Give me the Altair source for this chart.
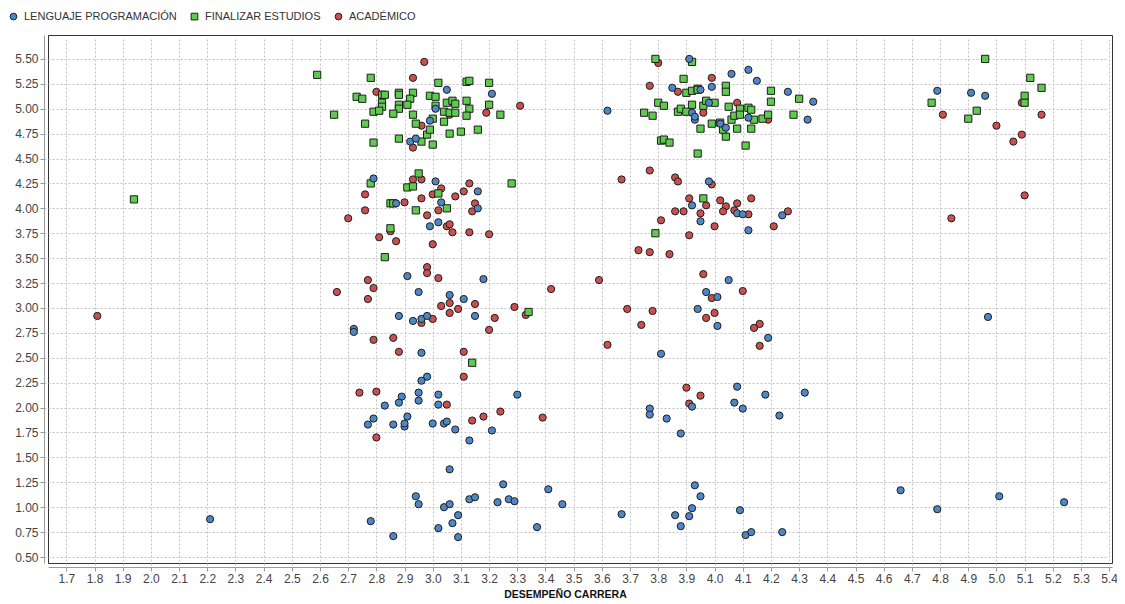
import altair as alt
import pandas as pd

# ---------------- data ----------------
series_names = ["LENGUAJE PROGRAMACIÓN", "FINALIZAR ESTUDIOS", "ACADÉMICO"]
series_colors = ["#4F86C6", "#5FCB4E", "#C9504F"]
series_shapes = ["circle", "square", "circle"]

x_ticks = [1.7, 1.8, 1.9, 2.0, 2.1, 2.2, 2.3, 2.4, 2.5, 2.6, 2.7, 2.8, 2.9, 3.0,
           3.1, 3.2, 3.3, 3.4, 3.5, 3.6, 3.7, 3.8, 3.9, 4.0, 4.1, 4.2, 4.3, 4.4,
           4.5, 4.6, 4.7, 4.8, 4.9, 5.0, 5.1, 5.2, 5.3, 5.4]
y_ticks = [0.5, 0.75, 1.0, 1.25, 1.5, 1.75, 2.0, 2.25, 2.5, 2.75, 3.0, 3.25, 3.5,
           3.75, 4.0, 4.25, 4.5, 4.75, 5.0, 5.25, 5.5]

lenguaje = [
    (3.05, 5.19), (3.21, 5.15), (3.01, 5.00), (2.99, 4.88), (2.92, 4.67), (2.94, 4.70),
    (2.79, 4.30), (3.01, 4.27), (3.16, 4.17), (3.03, 4.06), (3.16, 4.00), (2.87, 4.05),
    (2.99, 3.82), (3.02, 3.86), (2.91, 3.32), (2.95, 3.16), (3.06, 3.13), (3.11, 3.09),
    (3.18, 3.29), (2.88, 2.92), (2.93, 2.87), (2.96, 2.89), (2.98, 2.92), (3.15, 2.92),
    (2.72, 2.79), (2.72, 2.76), (2.96, 2.55), (2.98, 2.31), (2.96, 2.27),
    (2.95, 2.15), (3.02, 2.13), (3.02, 2.03), (2.89, 2.11), (2.88, 2.05), (2.95, 2.07),
    (2.83, 2.02), (3.30, 2.13), (2.91, 1.91), (2.79, 1.89), (2.77, 1.83), (2.86, 1.83),
    (2.90, 1.81), (2.90, 1.84), (3.00, 1.84), (3.04, 1.84), (3.05, 1.86), (3.08, 1.78),
    (3.21, 1.77), (3.13, 1.67), (3.06, 1.38), (3.25, 1.23), (3.41, 1.18), (2.94, 1.11),
    (2.95, 1.03), (3.13, 1.08), (3.15, 1.10), (3.23, 1.05), (3.27, 1.08), (3.29, 1.06),
    (3.04, 1.00), (3.06, 1.03), (3.09, 0.92), (3.07, 0.84), (2.78, 0.86), (3.02, 0.79),
    (2.86, 0.71), (3.09, 0.70), (3.37, 0.80), (3.46, 1.03), (2.21, 0.88),
    (3.91, 5.50), (4.06, 5.35), (4.12, 5.39), (4.15, 5.28), (3.85, 5.21), (3.95, 5.19),
    (3.99, 5.22), (3.98, 5.06), (4.26, 5.17), (4.35, 5.07), (4.33, 4.89), (3.62, 4.98),
    (3.92, 4.96), (3.93, 4.89), (3.93, 4.92), (4.02, 4.85), (4.04, 4.81), (4.12, 4.91),
    (3.98, 4.27), (3.92, 4.03), (4.08, 3.95), (4.10, 3.94), (4.24, 3.93),
    (3.95, 3.87), (4.12, 3.78), (4.05, 3.28), (3.97, 3.16), (4.01, 3.11), (3.94, 2.99),
    (4.01, 2.82), (4.19, 2.70), (3.81, 2.54), (4.08, 2.21),
    (4.18, 2.13), (4.32, 2.15), (3.77, 1.99), (3.77, 1.93), (3.83, 1.89), (3.92, 2.01),
    (4.07, 2.05), (4.10, 1.99), (4.23, 1.92), (3.88, 1.74), (3.93, 1.22), (3.95, 1.11),
    (3.92, 0.99), (3.91, 0.91), (3.86, 0.92), (3.88, 0.81), (3.67, 0.93), (4.09, 0.97),
    (4.11, 0.72), (4.13, 0.75), (4.24, 0.75),
    (4.79, 5.18), (4.91, 5.16), (4.96, 5.13), (4.97, 2.91), (4.66, 1.17), (4.79, 0.98),
    (5.01, 1.11), (5.24, 1.05),
]

finalizar = [
    (2.59, 5.34), (2.78, 5.31), (3.02, 5.26), (3.12, 5.27), (3.13, 5.28), (3.20, 5.26),
    (2.82, 5.14), (2.83, 5.14), (2.73, 5.12), (2.75, 5.10), (2.88, 5.16), (2.88, 5.14),
    (2.93, 5.16), (2.92, 5.10), (2.82, 5.06), (2.82, 5.02), (2.88, 5.04), (2.88, 5.00),
    (2.91, 5.04), (2.79, 4.97), (2.81, 4.98), (2.86, 4.95), (2.65, 4.94), (2.76, 4.85),
    (2.79, 4.66), (2.93, 4.94), (2.94, 4.85), (2.96, 4.67), (2.88, 4.70), (2.98, 4.74),
    (2.99, 4.79), (3.00, 4.64), (2.99, 5.13), (3.01, 5.12), (3.01, 5.03), (3.04, 4.97),
    (3.06, 4.96), (3.05, 5.06), (3.07, 5.08), (3.08, 5.05), (3.08, 4.96), (3.00, 4.90),
    (3.04, 4.87), (3.06, 4.75), (3.10, 4.77), (3.12, 5.08), (3.13, 5.00), (3.12, 4.93),
    (3.16, 4.79), (3.20, 5.04), (3.24, 4.94), (3.28, 4.25), (2.95, 4.35), (2.91, 4.21),
    (2.93, 4.22), (3.02, 4.15), (2.78, 4.25), (2.85, 4.05), (2.86, 4.05), (2.94, 3.98),
    (3.05, 4.00), (2.85, 3.80), (2.83, 3.51), (3.34, 2.96), (3.14, 2.45), (1.94, 4.09),
    (3.79, 5.50), (3.92, 5.47), (3.89, 5.30), (3.90, 5.16), (3.92, 5.18), (3.94, 5.20),
    (3.94, 5.19), (4.04, 5.23), (4.04, 5.17), (4.20, 5.18), (4.20, 5.07), (4.30, 5.10),
    (3.80, 5.06), (3.82, 5.03), (3.75, 4.96), (3.78, 4.93), (3.87, 4.97), (3.88, 5.00),
    (3.90, 4.97), (3.92, 5.04), (3.96, 5.03), (3.97, 5.08), (4.00, 5.06), (4.05, 5.02),
    (4.06, 4.89), (4.07, 4.93), (4.09, 5.00), (4.09, 4.94), (4.12, 5.01), (4.13, 4.99),
    (4.14, 4.89), (4.17, 4.90), (4.19, 4.94), (4.28, 4.94), (3.95, 4.80), (3.99, 4.85),
    (4.02, 4.86), (4.04, 4.72), (4.03, 4.79), (4.08, 4.80), (4.13, 4.80), (3.81, 4.68),
    (3.82, 4.69), (3.84, 4.66), (4.11, 4.63), (3.94, 4.55), (3.96, 4.10), (3.79, 3.75),
    (4.96, 5.50), (5.12, 5.31), (5.16, 5.21), (5.10, 5.13), (5.10, 5.06), (4.77, 5.06),
    (4.93, 4.98), (4.90, 4.90),
]

academico = [
    (2.97, 5.47), (2.93, 5.31), (2.80, 5.17), (3.31, 5.03), (3.19, 4.96), (3.06, 4.94),
    (2.96, 4.83), (2.93, 4.61), (2.93, 4.29), (2.96, 4.29), (3.03, 4.20), (3.00, 4.14),
    (3.13, 4.25), (3.11, 4.17), (3.08, 4.12), (2.96, 4.10), (2.90, 4.06), (2.76, 4.14),
    (2.76, 3.98), (3.15, 4.05), (3.14, 3.97), (3.02, 3.98), (2.98, 3.93), (2.70, 3.90),
    (3.05, 3.82), (3.06, 3.84), (3.07, 3.76), (3.13, 3.76), (3.20, 3.74), (2.81, 3.71),
    (2.85, 3.77), (2.87, 3.67), (3.00, 3.64), (2.98, 3.41), (2.98, 3.35), (3.02, 3.30),
    (2.77, 3.28), (2.66, 3.16), (2.79, 3.20), (2.77, 3.09), (3.03, 3.02), (3.06, 3.05),
    (3.06, 2.95), (3.09, 2.99), (3.15, 3.04), (3.29, 3.01), (3.33, 2.93), (3.42, 3.19),
    (3.00, 2.89), (2.96, 2.85), (3.22, 2.90), (3.20, 2.78), (2.79, 2.68), (2.86, 2.70),
    (2.88, 2.56), (3.11, 2.56), (3.11, 2.31),
    (2.74, 2.15), (2.80, 2.16), (3.05, 2.03), (3.14, 1.87), (3.18, 1.91), (3.24, 1.96),
    (3.39, 1.90), (2.80, 1.70), (1.81, 2.92),
    (3.80, 5.46), (3.99, 5.31), (3.77, 5.23), (3.87, 5.17), (3.96, 4.96), (4.08, 5.06),
    (4.19, 4.89), (3.77, 4.38), (3.67, 4.29), (3.86, 4.31), (3.87, 4.27), (3.99, 4.24),
    (3.91, 4.10), (3.97, 4.03), (4.02, 4.08), (4.04, 4.02), (4.08, 4.05), (4.13, 4.10),
    (3.86, 3.97), (3.89, 3.97), (3.95, 3.95), (4.03, 3.97), (4.07, 3.98), (4.12, 3.94),
    (4.26, 3.97), (3.81, 3.88),
    (4.00, 3.82), (4.21, 3.82), (3.91, 3.73), (3.73, 3.58), (3.77, 3.56), (3.84, 3.54),
    (3.96, 3.34), (3.59, 3.28), (4.10, 3.17), (3.99, 3.10), (3.69, 2.99), (3.78, 2.97),
    (4.00, 2.95), (3.97, 2.90), (3.74, 2.83), (4.16, 2.84), (4.14, 2.80), (3.62, 2.63),
    (4.16, 2.62), (3.90, 2.20), (3.95, 2.12), (3.91, 2.04),
    (5.09, 5.06), (4.81, 4.94), (5.16, 4.94), (5.00, 4.83), (5.09, 4.74), (5.06, 4.67),
    (5.10, 4.13), (4.84, 3.90),
]

# ---------------- table ----------------
rows = []
# drawing order: last series first, first series on top
for name, pts in [(series_names[2], academico), (series_names[1], finalizar), (series_names[0], lenguaje)]:
    for x, y in pts:
        rows.append({"desempeno": x, "valor": y, "serie": name})
df = pd.DataFrame(rows)

FONT = "Liberation Sans"

chart = alt.Chart(df).mark_point(
    filled=True, size=52, stroke="#1e1e1e", strokeWidth=1, opacity=1
).encode(
    x=alt.X("desempeno:Q",
            scale=alt.Scale(domain=[1.635, 5.41], nice=False, zero=False),
            axis=alt.Axis(values=x_ticks, format=".1f", title="DESEMPEÑO CARRERA",
                          labelFlush=False, labelOverlap=False, titleX=517,
                          titleFontSize=10.5)),
    y=alt.Y("valor:Q",
            scale=alt.Scale(domain=[0.44, 5.74], nice=False, zero=False),
            axis=alt.Axis(values=y_ticks, format=".2f", title=None)),
    color=alt.Color("serie:N", sort=series_names,
                    scale=alt.Scale(domain=series_names, range=series_colors),
                    legend=alt.Legend(title=None)),
    shape=alt.Shape("serie:N", sort=series_names,
                    scale=alt.Scale(domain=series_names, range=series_shapes),
                    legend=alt.Legend(title=None)),
).properties(
    width=1064, height=528,
    autosize=alt.AutoSizeParams(type="none"),
    padding={"left": 40, "top": 27, "right": 5, "bottom": 38},
).configure_view(
    stroke="#333333", strokeWidth=1
).configure_axis(
    grid=True, gridColor="#c4c4c4", gridDash=[2, 2], gridWidth=1,
    domain=True, domainColor="#9a9a9a", domainWidth=1, offset=4,
    ticks=True, tickColor="#9a9a9a", tickSize=4,
    labelFont=FONT, labelFontSize=12, labelColor="#444444", labelPadding=2,
    titleFont=FONT, titleFontWeight="bold", titleColor="#111111",
).configure_axisX(
    titlePadding=5
).configure_legend(
    orient="none", legendX=-40, legendY=-24, direction="horizontal",
    padding=0, labelFont=FONT, labelFontSize=11, labelColor="#333333",
    labelLimit=0, symbolSize=45, symbolStrokeColor="#1e1e1e", symbolStrokeWidth=1,
    columnPadding=12, labelOffset=5, symbolType="circle",
)

chart.save("out.html", embed_options={"renderer": "svg", "actions": False})
